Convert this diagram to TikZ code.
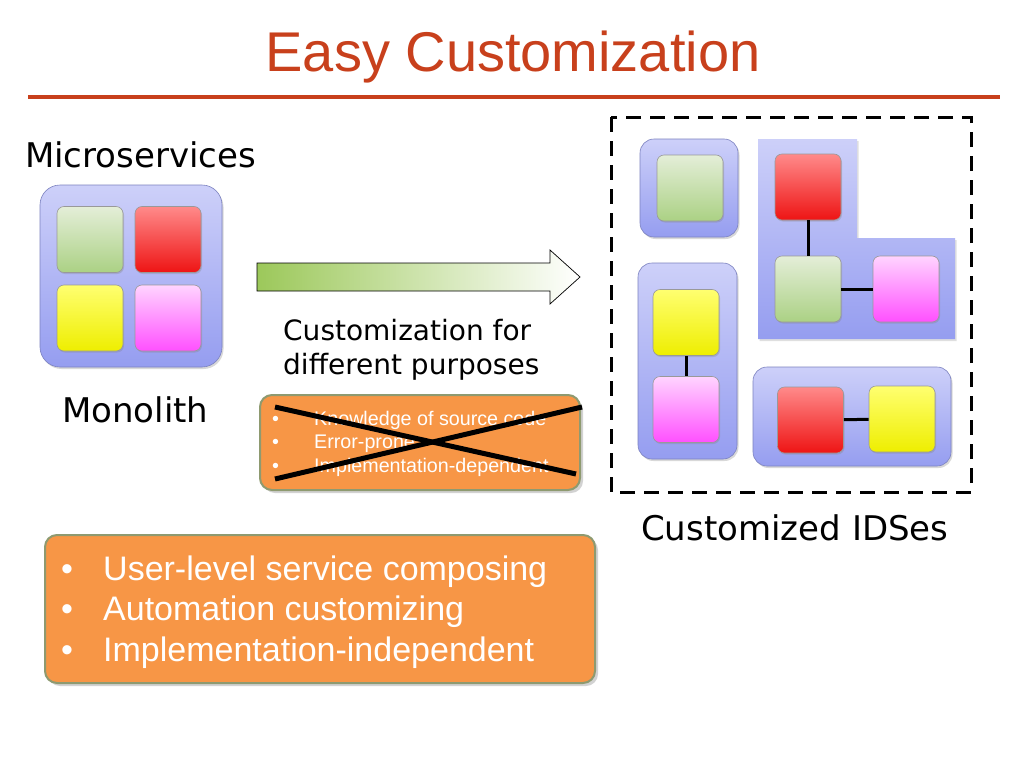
\documentclass[tikz,border=0pt]{standalone}
\usepackage{fontspec}
\setmainfont{Liberation Sans}
\newfontfamily\dv{DejaVu Sans}
\usetikzlibrary{shadows}
\definecolor{titlecol}{HTML}{C8401C}
\definecolor{orangebox}{HTML}{F79646}
\definecolor{orangeedge}{HTML}{8E9A70}
\definecolor{agreen}{HTML}{9CC85A}
\definecolor{amid}{HTML}{D4E6BE}
\definecolor{contTop}{HTML}{CDD0F9}
\definecolor{contBot}{HTML}{959DF0}
\definecolor{contEdge}{HTML}{7C82C0}
\definecolor{gTop}{HTML}{E4EED8}
\definecolor{gBot}{HTML}{ABD184}
\definecolor{rTop}{HTML}{FF8A8A}
\definecolor{rBot}{HTML}{EE1414}
\definecolor{yTop}{HTML}{FFFF70}
\definecolor{yBot}{HTML}{EEEE00}
\definecolor{pTop}{HTML}{FFD4FF}
\definecolor{pBot}{HTML}{FF50FF}
\tikzset{
  sq/.style={rounded corners=7pt, minimum width=66pt, minimum height=66pt, inner sep=0pt,
    draw=black!40, line width=0.6pt,
    drop shadow={shadow xshift=1pt, shadow yshift=-1.5pt, opacity=0.3}},
  gsq/.style={sq, top color=gTop, bottom color=gBot},
  rsq/.style={sq, top color=rTop, bottom color=rBot},
  ysq/.style={sq, top color=yTop, bottom color=yBot},
  psq/.style={sq, top color=pTop, bottom color=pBot},
  cont/.style={draw=contEdge, line width=0.6pt, inner sep=0pt, top color=contTop, bottom color=contBot,
    drop shadow={shadow xshift=1.5pt, shadow yshift=-2pt, opacity=0.3}},
  obox/.style={draw=orangeedge, line width=2pt, fill=orangebox, rounded corners=12pt, inner sep=0pt,
    drop shadow={shadow xshift=3pt, shadow yshift=-3pt, opacity=0.35}},
  link/.style={draw=black, line width=3pt},
  lbl/.style={font=\dv\fontsize{34}{39}\selectfont, anchor=base west, inner sep=0pt},
  mid/.style={font=\dv\fontsize{28}{33}\selectfont, anchor=base west, inner sep=0pt},
  small/.style={font=\fontsize{19.7}{23}\selectfont, text=white, anchor=base west, inner sep=0pt},
  big/.style={font=\fontsize{34}{40}\selectfont, text=white, anchor=base west, inner sep=0pt}
}
\begin{document}
\begin{tikzpicture}[x=1pt,y=-1pt]
\fill[white] (0,0) rectangle (1024,768);
\useasboundingbox (0,0) rectangle (1024,768);

% title
\node[font=\fontsize{56}{64}\selectfont, text=titlecol, anchor=base, inner sep=0pt] (title) at (513,71) {Easy Customization};
\draw[line width=4pt, titlecol] (28,97) -- (1000,97);

% labels
\node[lbl] (micro) at (25,167) {Microservices};
\node[lbl] (mono) at (62,422) {Monolith};
\node[mid] (cust1) at (283,340) {Customization for};
\node[mid] (cust2) at (283,374) {different purposes};
\node[lbl] (idses) at (641,540) {Customized IDSes};

% monolith icon
\node[cont, rounded corners=20pt, minimum width=182pt, minimum height=182pt] (monoc) at (131,276) {};
\node[gsq] (mg) at (90,239.5) {};
\node[rsq] (mr) at (168,239.5) {};
\node[ysq] (my) at (90,318) {};
\node[psq] (mp) at (168,318) {};

% arrow
\path[draw=black, line width=0.7pt, left color=agreen, middle color=amid, right color=white]
  (257,263) -- (550,263) -- (550,250) -- (580,277) -- (550,304) -- (550,291) -- (257,291) -- cycle;

% small crossed box
\node[obox, minimum width=320pt, minimum height=95pt] (oldbox) at (420,442.5) {};
\node[small] (b1) at (272,425) {•};
\node[small] (b2) at (272,448) {•};
\node[small] (b3) at (272,472) {•};
\node[small] (t1) at (314,425) {Knowledge of source code};
\node[small] (t2) at (314,448) {Error-prone};
\node[small] (t3) at (314,472) {Implementation-dependent};
\coordinate (xa) at (275,407);
\coordinate (xb) at (576,474);
\coordinate (xc) at (275,479);
\coordinate (xd) at (582,407);
\draw[line width=5pt] (xa) -- (xb);
\draw[line width=5pt] (xc) -- (xd);

% large box
\node[obox, minimum width=550pt, minimum height=148pt] (newbox) at (320,609) {};
\node[big] (B1) at (61,580) {•};
\node[big] (B2) at (61,620) {•};
\node[big] (B3) at (61,661) {•};
\node[big] (T1) at (103,580) {User-level service composing};
\node[big] (T2) at (103,620) {Automation customizing};
\node[big] (T3) at (103,661) {Implementation-independent};

% dashed frame
\draw[line width=3pt, dash pattern=on 15pt off 9pt] (611,117) rectangle (971,492);

% container 1
\node[cont, rounded corners=14pt, minimum width=98pt, minimum height=98pt] (c1) at (689,188) {};
\node[gsq] (c1g) at (690,188) {};

% L-shaped container
\path[top color=contTop, bottom color=contBot,
  drop shadow={shadow xshift=1.5pt, shadow yshift=-2pt, opacity=0.25}]
  (758,139) -- (857,139) -- (857,238) -- (955,238) -- (955,339) -- (758,339) -- cycle;
\node[rsq] (lr) at (808,187) {};
\node[gsq] (lg) at (808,289) {};
\node[psq] (lp) at (906,289) {};
\draw[link] (lr) -- (lg);
\draw[link] (lg) -- (lp);

% vertical container
\node[cont, rounded corners=14pt, minimum width=99pt, minimum height=196pt] (c2) at (687.5,361) {};
\node[ysq] (vy) at (686,322.5) {};
\node[psq] (vp) at (686,409.5) {};
\draw[link] (vy) -- (vp);

% bottom container
\node[cont, rounded corners=14pt, minimum width=198pt, minimum height=99pt] (c3) at (852,416.5) {};
\node[rsq] (br) at (810.5,420) {};
\node[ysq] (by) at (902,419) {};
\draw[link] (br) -- (by);
\end{tikzpicture}
\end{document}
